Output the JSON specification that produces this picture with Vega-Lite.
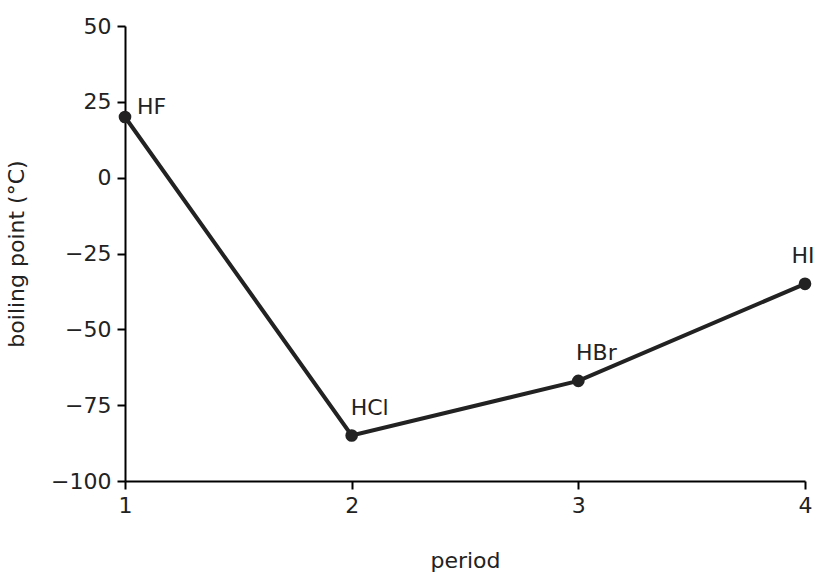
{
  "$schema": "https://vega.github.io/schema/vega-lite/v6.json",
  "width": 680,
  "height": 455,
  "autosize": "none",
  "padding": {"left": 125, "top": 26, "right": 12, "bottom": 97},
  "background": "white",
  "config": {
    "view": {"stroke": null},
    "font": "DejaVu Sans",
    "axis": {
      "grid": false,
      "domainColor": "black",
      "domainWidth": 2,
      "tickColor": "black",
      "tickWidth": 2,
      "tickSize": 8,
      "labelFontSize": 22,
      "labelColor": "#222",
      "labelFlush": false,
      "titleFontSize": 22,
      "titleFontWeight": "normal",
      "titleColor": "#222"
    }
  },
  "data": {
    "values": [
      {"period": 1, "bp": 20, "name": "HF"},
      {"period": 2, "bp": -85, "name": "HCl"},
      {"period": 3, "bp": -67, "name": "HBr"},
      {"period": 4, "bp": -35, "name": "HI"}
    ]
  },
  "encoding": {
    "x": {
      "field": "period", "type": "quantitative",
      "scale": {"domain": [1, 4], "nice": false, "zero": false},
      "axis": {"values": [1, 2, 3, 4], "format": "d", "title": "period", "titlePadding": 34, "labelPadding": 6}
    },
    "y": {
      "field": "bp", "type": "quantitative",
      "scale": {"domain": [-100, 50], "nice": false},
      "axis": {"values": [-100, -75, -50, -25, 0, 25, 50], "title": "boiling point (°C)", "titlePadding": 22, "labelPadding": 6}
    }
  },
  "layer": [
    {"mark": {"type": "line", "color": "#222", "strokeWidth": 4}},
    {"mark": {"type": "point", "filled": true, "color": "#222", "size": 160, "opacity": 1}},
    {
      "transform": [{"filter": "datum.name == 'HF'"}],
      "mark": {"type": "text", "align": "left", "dx": 12, "dy": -10, "fontSize": 22, "color": "#222"},
      "encoding": {"text": {"field": "name"}}
    },
    {
      "transform": [{"filter": "datum.name == 'HCl' || datum.name == 'HBr'"}],
      "mark": {"type": "text", "align": "center", "dx": 18, "dy": -28, "fontSize": 22, "color": "#222"},
      "encoding": {"text": {"field": "name"}}
    },
    {
      "transform": [{"filter": "datum.name == 'HI'"}],
      "mark": {"type": "text", "align": "center", "dx": -2, "dy": -28, "fontSize": 22, "color": "#222"},
      "encoding": {"text": {"field": "name"}}
    }
  ]
}
